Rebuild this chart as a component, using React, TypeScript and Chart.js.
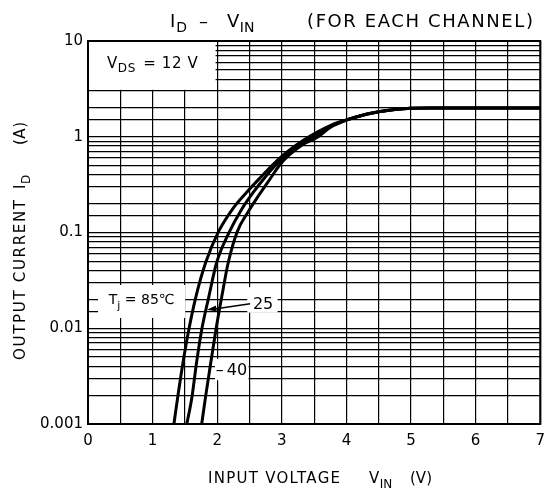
import React, { useEffect, useRef } from "react";
import { Chart, registerables } from "chart.js";

Chart.register(...registerables);

// ---- Data ----
const V_85 = [1.33, 1.39, 1.47, 1.56, 1.67, 1.82, 2.02, 2.24, 2.45, 2.68, 2.86, 3.03, 3.22, 3.42, 3.75, 4.0, 4.25, 4.5, 4.75, 5.0, 5.3, 7.0];
const I_85 = [0.001, 0.00193, 0.00436, 0.00964, 0.0213, 0.0483, 0.102, 0.177, 0.26, 0.382, 0.51, 0.649, 0.815, 1.0, 1.31, 1.5, 1.68, 1.82, 1.93, 1.99, 2.0, 2.0];

const V_25 = [1.53, 1.61, 1.68, 1.76, 1.87, 1.99, 2.19, 2.37, 2.56, 2.76, 2.91, 3.08, 3.28, 3.49, 3.75, 4.0, 4.25, 4.5, 4.75, 5.0, 5.3, 7.0];
const I_25 = [0.001, 0.00193, 0.00436, 0.00964, 0.0213, 0.0483, 0.102, 0.171, 0.264, 0.392, 0.51, 0.649, 0.825, 1.0, 1.28, 1.5, 1.68, 1.82, 1.93, 1.99, 2.0, 2.0];

const V_M40 = [1.76, 1.82, 1.9, 1.98, 2.07, 2.17, 2.31, 2.48, 2.66, 2.83, 2.97, 3.12, 3.32, 3.55, 3.75, 4.0, 4.25, 4.5, 4.75, 5.0, 5.3, 7.0];
const I_M40 = [0.001, 0.00193, 0.00436, 0.00964, 0.0213, 0.0483, 0.102, 0.165, 0.254, 0.373, 0.51, 0.649, 0.825, 0.988, 1.25, 1.49, 1.68, 1.82, 1.93, 1.99, 2.0, 2.0];

const X_TICK_LABELS = ["0", "1", "2", "3", "4", "5", "6", "7"];
const Y_TICK_VALUES = [0.001, 0.01, 0.1, 1, 10];
const Y_TICK_LABELS = ["0.001", "0.01", "0.1", "1", "10"];

const FONT = '"DejaVu Sans", "Noto Sans", sans-serif';

type Seg = { t: string; sub?: boolean; gap?: number; x?: number; w?: number };

// Draws text segments; a segment may have an absolute x and a target width (via letter spacing)
function drawRich(ctx: CanvasRenderingContext2D, segs: Seg[], x: number, y: number, size: number, align: "left" | "center", spacing = 0) {
  const subSize = Math.round(size * 0.8);
  const c: any = ctx;
  const widths = segs.map((s) => {
    ctx.font = `${s.sub ? subSize : size}px ${FONT}`;
    c.letterSpacing = "0px";
    const w = ctx.measureText(s.t).width;
    return w + spacing * s.t.length;
  });
  let total = 0;
  segs.forEach((s, i) => (total += widths[i] + (s.gap || 0)));
  let cx = align === "center" ? x - total / 2 : x;
  ctx.textAlign = "left";
  ctx.textBaseline = "alphabetic";
  segs.forEach((s, i) => {
    cx += s.gap || 0;
    if (s.x !== undefined) cx = s.x;
    ctx.font = `${s.sub ? subSize : size}px ${FONT}`;
    let ls = spacing;
    let w = widths[i];
    if (s.w !== undefined && s.t.length > 1) {
      c.letterSpacing = "0px";
      const raw = ctx.measureText(s.t).width;
      ls = (s.w - raw) / (s.t.length - 1);
      w = s.w;
    }
    c.letterSpacing = `${ls}px`;
    ctx.fillText(s.t, cx, s.sub ? y + size * 0.3 : y);
    c.letterSpacing = "0px";
    cx += w;
  });
}

// White label boxes in data units [x0, x1, y0, y1]
const BOXES = [
  [0, 1.99, 3.02, 10],
  [0.14, 1.52, 0.0125, 0.029],
  [2.45, 2.95, 0.0142, 0.0275],
  [1.95, 2.5, 0.0028, 0.0049],
];

const decor = {
  id: "decor",
  beforeDatasetsDraw(chart: any) {
    const { ctx, scales } = chart;
    const x = scales.x, y = scales.y;
    ctx.save();
    ctx.fillStyle = "#fff";
    BOXES.forEach(([x0, x1, y0, y1]) => {
      const l = x.getPixelForValue(x0) + 1;
      const r = x.getPixelForValue(x1) - 1;
      const t = y.getPixelForValue(y1) + 1;
      const b = y.getPixelForValue(y0) - 1;
      ctx.fillRect(l, t, r - l, b - t);
    });
    ctx.restore();
  },
  afterDatasetsDraw(chart: any) {
    const { ctx, scales, chartArea } = chart;
    const x = scales.x, y = scales.y;
    ctx.save();
    ctx.strokeStyle = "#000";
    ctx.lineWidth = 2;
    ctx.strokeRect(chartArea.left, chartArea.top, chartArea.right - chartArea.left, chartArea.bottom - chartArea.top);

    ctx.fillStyle = "#000";
    drawRich(ctx, [{ t: "V" }, { t: "DS", sub: true }, { t: " = 12 V", gap: 2 }], x.getPixelForValue(1.0), y.getPixelForValue(5.9) + 5, 15, "center", 0.6);
    drawRich(ctx, [{ t: "T" }, { t: "j", sub: true }, { t: " = 85℃" }], x.getPixelForValue(0.83), y.getPixelForValue(0.02) + 5, 14, "center");
    drawRich(ctx, [{ t: "25" }], x.getPixelForValue(2.71), y.getPixelForValue(0.0186) + 7, 16, "center");
    drawRich(ctx, [{ t: "–" }, { t: "40", gap: 3 }], x.getPixelForValue(2.22), y.getPixelForValue(0.0038) + 7, 16, "center");

    const ax0 = x.getPixelForValue(2.51), ay0 = y.getPixelForValue(0.018);
    const ax1 = x.getPixelForValue(1.84), ay1 = y.getPixelForValue(0.0156);
    ctx.lineWidth = 1.6;
    ctx.beginPath();
    ctx.moveTo(ax0, ay0);
    ctx.lineTo(ax1 + 6, ay1 - 0.5);
    ctx.stroke();
    const ang = Math.atan2(ay1 - ay0, ax1 - ax0);
    ctx.beginPath();
    ctx.moveTo(ax1, ay1);
    ctx.lineTo(ax1 - 10 * Math.cos(ang - 0.3), ay1 - 10 * Math.sin(ang - 0.3));
    ctx.lineTo(ax1 - 10 * Math.cos(ang + 0.3), ay1 - 10 * Math.sin(ang + 0.3));
    ctx.closePath();
    ctx.fill();
    ctx.restore();
  },
  afterDraw(chart: any) {
    const { ctx } = chart;
    ctx.save();
    ctx.fillStyle = "#000";
    // title
    drawRich(
      ctx,
      [
        { t: "I", x: 170 },
        { t: "D", sub: true, gap: 1 },
        { t: "–", x: 199 },
        { t: "V", x: 227 },
        { t: "IN", sub: true, gap: 0.5 },
        { t: "(FOR EACH CHANNEL)", x: 307, w: 226 },
      ],
      0,
      27,
      18,
      "left"
    );
    // x title
    drawRich(
      ctx,
      [
        { t: "INPUT VOLTAGE", x: 208, w: 132 },
        { t: "V", x: 369 },
        { t: "IN", sub: true, gap: 0.5 },
        { t: "(V)", x: 410, w: 22 },
      ],
      0,
      483,
      15,
      "left"
    );
    // y title
    ctx.translate(25, 360);
    ctx.rotate(-Math.PI / 2);
    drawRich(
      ctx,
      [
        { t: "OUTPUT CURRENT", x: 0, w: 160 },
        { t: "I", x: 171 },
        { t: "D", sub: true, gap: 0.5 },
        { t: "(A)", x: 215, w: 23 },
      ],
      0,
      0,
      15,
      "left"
    );
    ctx.restore();
  },
};

function pts(vs: number[], is: number[]) {
  return vs.map((v, i) => ({ x: v, y: is[i] }));
}

export default function App() {
  const ref = useRef<HTMLCanvasElement | null>(null);
  useEffect(() => {
    if (!ref.current) return;
    const ds = (data: any) => ({
      data,
      showLine: true,
      borderColor: "#000",
      borderWidth: 3,
      pointRadius: 0,
      fill: false,
      cubicInterpolationMode: "monotone" as const,
    });
    const chart = new Chart(ref.current, {
      type: "scatter",
      data: {
        datasets: [ds(pts(V_85, I_85)), ds(pts(V_25, I_25)), ds(pts(V_M40, I_M40))],
      },
      plugins: [decor],
      options: {
        animation: false,
        responsive: false,
        layout: { padding: { top: 41, right: 7, bottom: 0, left: 0 } },
        plugins: { legend: { display: false }, title: { display: false }, tooltip: { enabled: false } },
        scales: {
          x: {
            type: "linear",
            min: 0,
            max: 7,
            afterFit: (s: any) => {
              s.height = 69;
            },
            grid: { color: "#000", lineWidth: 1.2, drawTicks: false },
            border: { display: false },
            ticks: {
              stepSize: 0.5,
              autoSkip: false,
              maxRotation: 0,
              padding: 8,
              color: "#000",
              font: { family: FONT, size: 15 },
              callback: (v: any) => (Number.isInteger(v) ? X_TICK_LABELS[v] : ""),
            },
          },
          y: {
            type: "logarithmic",
            min: 0.001,
            max: 10,
            afterFit: (s: any) => {
              s.width = 88;
            },
            grid: { color: "#000", lineWidth: 1.2, drawTicks: false },
            border: { display: false },
            ticks: {
              autoSkip: false,
              padding: 5,
              color: "#000",
              font: { family: FONT, size: 15 },
              callback: (v: any) => {
                const idx = Y_TICK_VALUES.findIndex((t) => Math.abs(t - v) / t < 1e-6);
                return idx >= 0 ? Y_TICK_LABELS[idx] : "";
              },
            },
          },
        },
      },
    });
    return () => chart.destroy();
  }, []);
  return (
    <div style={{ position: "absolute", left: 0, top: 0, width: 553, height: 493, background: "#fff" }}>
      <canvas ref={ref} width={553} height={493} style={{ width: 553, height: 493, display: "block" }} />
    </div>
  );
}
